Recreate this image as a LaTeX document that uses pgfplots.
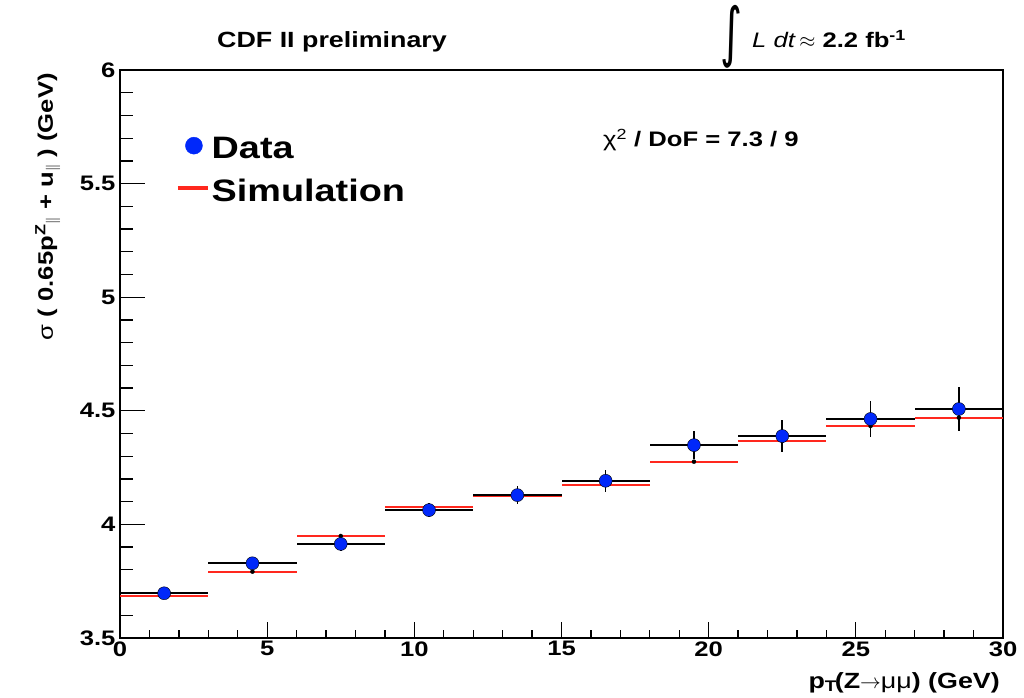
\documentclass[border=0pt]{standalone}
\usepackage{pgfplots}
\pgfplotsset{compat=1.18}
\usepackage{fontspec}
\setmainfont[FakeStretch=1.22]{Liberation Sans}
\newfontfamily\dejavu{DejaVu Sans}
\definecolor{dataBlue}{RGB}{0,40,250}
\definecolor{simRed}{RGB}{255,40,30}

\begin{document}
\begin{tikzpicture}[x=1pt,y=1pt]
	\begin{axis}[
		at={(0,0)}, anchor=south west,
		scale only axis,
		width=883pt, height=568pt,
		xmin=0, xmax=30, ymin=3.5, ymax=6,
		xtick={0,5,...,30}, ytick={3.5,4,...,6},
		minor x tick num=4, minor y tick num=4,
		tick pos=left,
		xtick style={line width=1.3pt, black, /pgfplots/major tick length=16pt, /pgfplots/minor tick length=8pt},
		ytick style={line width=1.3pt, black, /pgfplots/major tick length=25pt, /pgfplots/minor tick length=13pt},
		axis line style={line width=1.8pt},
		/pgf/number format/assume math mode=true,
		/pgf/number format/fixed,
		ticklabel style={font=\bfseries\fontsize{21}{21}\selectfont},
		yticklabel style={xshift=-1pt},
		legend style={at={(rel axis cs:0.06,0.889)}, anchor=north west, draw=none, fill=none,
			font=\bfseries\fontsize{31}{31}\selectfont, row sep=15pt,
			/tikz/every even column/.append style={column sep=5pt}},
		legend cell align=left,
		clip=false,
		]

		% simulation: red horizontal bin lines
		\addplot[forget plot, only marks, mark=none,
			error bars/.cd, x dir=both, x explicit,
			error bar style={simRed, line width=2pt}, error mark=none]
			coordinates {
			(1.5,3.686) +- (1.5,0)
			(4.5,3.792) +- (1.5,0)
			(7.5,3.949) +- (1.5,0)
			(10.5,4.078) +- (1.5,0)
			(13.5,4.126) +- (1.5,0)
			(16.5,4.175) +- (1.5,0)
			(19.5,4.276) +- (1.5,0)
			(22.5,4.367) +- (1.5,0)
			(25.5,4.433) +- (1.5,0)
			(28.5,4.470) +- (1.5,0)
		};

		% data with errors
		\addplot[forget plot, only marks, mark=*, mark size=6.5pt, mark options={draw=none, fill=dataBlue},
			error bars/.cd, x dir=both, x explicit, y dir=both, y explicit,
			error bar style={black, line width=1.6pt}, error mark=none]
			coordinates {
			(1.5,3.697) +- (1.5,0.015)
			(4.5,3.829) +- (1.5,0.020)
			(7.5,3.914) +- (1.5,0.030)
			(10.5,4.063) +- (1.5,0.030)
			(13.5,4.129) +- (1.5,0.040)
			(16.5,4.192) +- (1.5,0.048)
			(19.5,4.349) +- (1.5,0.060)
			(22.5,4.389) +- (1.5,0.071)
			(25.5,4.464) +- (1.5,0.081)
			(28.5,4.508) +- (1.5,0.095)
		};

		\addlegendimage{legend image code/.code={\fill[dataBlue] (16pt,3pt) circle (8.5pt);}}
		\addlegendentry{Data}
		\addlegendimage{legend image code/.code={\draw[simRed, line width=3.5pt] (0pt,3pt) -- (30pt,3pt);}}
		\addlegendentry{Simulation}
	\end{axis}

	% labels and annotations
	\node[font=\bfseries\fontsize{22}{22}\selectfont, anchor=base] at (212,590) {CDF II preliminary};
	\node[anchor=center, inner sep=0pt] at (611,601) {\resizebox*{22pt}{63pt}{\dejavu ∫}};
	\node[anchor=base west, inner sep=0pt, font=\fontsize{21}{21}\selectfont] at (632,590)
		{\textit{L dt}\,$\approx$ \textbf{2.2 fb\textsuperscript{-1}}};
	\node[anchor=base west, inner sep=0pt, font=\fontsize{21}{21}\selectfont] at (483,491)
		{χ\textsuperscript{2} \textbf{/ DoF = 7.3 / 9}};
	\node[rotate=90, anchor=base east, inner sep=0pt, font=\bfseries\fontsize{21}{21}\selectfont] at (-67,565)
		{{\mdseries σ} ( 0.65p\textsuperscript{Z}$_{\parallel}$ + u$_{\parallel}$ ) (GeV)};
	\node[anchor=base east, inner sep=0pt, font=\bfseries\fontsize{22}{22}\selectfont] at (880,-50)
		{p$_{\mathbf{T}}$(Z$\rightarrow${\mdseries μμ}) (GeV)};

	\path[use as bounding box] (-120,-59) rectangle (904,638);
\end{tikzpicture}
\end{document}
